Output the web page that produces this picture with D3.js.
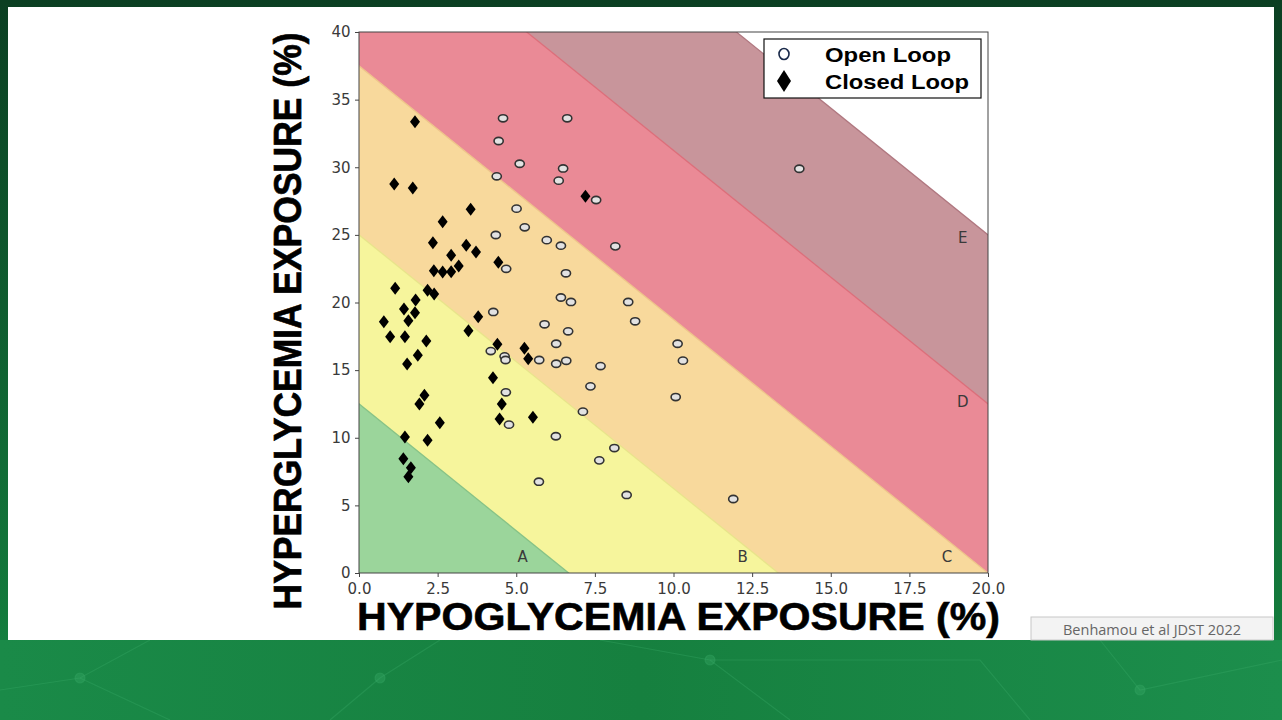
<!DOCTYPE html>
<html><head><meta charset="utf-8">
<script src="https://cdn.jsdelivr.net/npm/d3@7"></script>
<style>html,body{margin:0;padding:0;overflow:hidden;background:#0d4626;}</style>
</head><body>
<svg id="c" width="1282" height="720"></svg>
<script>
// ---- data ----
const openLoopX = [4.58,6.62,4.44,5.11,6.49,6.35,4.38,7.54,5.01,5.27,4.35,5.97,6.42,8.15,4.68,6.58,6.42,6.74,8.56,8.78,4.27,5.90,6.65,6.27,4.19,4.63,4.66,5.73,6.27,6.59,7.68,7.36,4.67,7.12,4.77,6.26,8.12,7.64,5.72,8.51,10.13,10.30,10.07,11.90,14.0];
const openLoopY = [33.62,33.62,31.94,30.26,29.91,29.01,29.33,27.58,26.94,25.56,24.99,24.61,24.20,24.15,22.49,22.16,20.37,20.04,20.04,18.61,19.30,18.39,17.87,16.95,16.41,16.02,15.75,15.75,15.47,15.69,15.30,13.80,13.36,11.93,10.97,10.11,9.24,8.33,6.75,5.77,16.95,15.70,13.01,5.47,29.89];
const closedLoopX = [1.78,1.12,1.71,3.55,2.66,2.35,3.41,3.72,2.93,3.17,2.38,2.66,2.93,4.43,1.15,2.18,2.39,1.80,1.43,1.78,0.79,1.57,3.79,0.99,1.46,2.14,3.48,1.87,1.53,4.40,5.26,5.38,4.26,2.08,1.92,4.54,2.57,4.47,5.53,1.46,2.18,1.41,1.65,1.57,7.20];
const closedLoopY = [33.37,28.76,28.47,26.89,25.97,24.42,24.23,23.73,23.49,22.70,22.35,22.26,22.28,22.97,21.05,20.90,20.63,20.18,19.52,19.25,18.58,18.65,18.95,17.47,17.47,17.15,17.91,16.10,15.45,16.92,16.61,15.84,14.44,13.14,12.50,12.50,11.11,11.39,11.51,10.06,9.81,8.45,7.79,7.12,27.85];
const zoneNames = ["A","B","C","D","E"];
const zoneBounds = [0,20,40,60,80,100];          // GRI = 3*hypo + 1.6*hyper
const zoneLabelX = [5.2,12.2,18.7,19.2,19.2];
const zoneLabelY = [0.8,0.8,0.8,12.3,24.4];
const xTicks = [0,2.5,5,7.5,10,12.5,15,17.5,20];
const yTicks = [0,5,10,15,20,25,30,35,40];
const seriesNames = ["Open Loop","Closed Loop"];

// ---- styles ----
const zoneFill = ["#9bd59b","#f6f59c","#f8d99c","#ea8a96","#c8959b"];
const zoneEdge = ["#86c286","#e8e48a","#eec48a","#dc6e7a","#b07880"];

const svg = d3.select("#c");
const defs = svg.append("defs");
const bg = defs.append("linearGradient").attr("id","bg").attr("x1",0).attr("y1",0).attr("x2",0).attr("y2",1);
bg.append("stop").attr("offset","0").attr("stop-color","#0b3f22");
bg.append("stop").attr("offset","0.85").attr("stop-color","#137a3c");
bg.append("stop").attr("offset","1").attr("stop-color","#1a8c48");
const bot = defs.append("linearGradient").attr("id","bot").attr("x1",0).attr("y1",0).attr("x2",1).attr("y2",0);
bot.append("stop").attr("offset","0").attr("stop-color","#1a8a48");
bot.append("stop").attr("offset","0.5").attr("stop-color","#16803f");
bot.append("stop").attr("offset","1").attr("stop-color","#1c8e4c");

svg.append("rect").attr("width",1282).attr("height",720).attr("fill","url(#bg)");
svg.append("rect").attr("x",0).attr("y",640).attr("width",1282).attr("height",80).attr("fill","url(#bot)");
// faint network decoration
const net = svg.append("g").attr("stroke","#3aa866").attr("stroke-opacity",0.35).attr("fill","none").attr("stroke-width",1.2);
[[ [0,690],[80,678],[150,640] ],[ [80,678],[170,720] ],[ [600,640],[710,660],[790,720] ],[ [710,660],[980,660],[1030,720] ],[ [1100,640],[1140,690],[1282,660] ],[ [380,678],[440,640] ],[ [380,678],[330,720] ]].forEach(p=>{
  net.append("path").attr("d",d3.line()(p));
});
[[80,678],[710,660],[1140,690],[380,678]].forEach(p=>net.append("circle").attr("cx",p[0]).attr("cy",p[1]).attr("r",5).attr("fill","#3aa866").attr("fill-opacity",0.35));

svg.append("rect").attr("x",8).attr("y",7).attr("width",1266).attr("height",633).attr("fill","#ffffff");

// ---- plot ----
const L=359, R=988, T=32, B=573;
const x = d3.scaleLinear().domain([0,20]).range([L,R]);
const y = d3.scaleLinear().domain([0,40]).range([B,T]);

defs.append("clipPath").attr("id","pc").append("rect").attr("x",L).attr("y",T).attr("width",R-L).attr("height",B-T);
const plot = svg.append("g").attr("clip-path","url(#pc)");

const lineX = (g,yy)=> (g-1.6*yy)/3;
for(let i=0;i<zoneNames.length;i++){
  const g1=zoneBounds[i], g2=zoneBounds[i+1];
  const poly=[[lineX(g1,-10),-10],[lineX(g1,60),60],[lineX(g2,60),60],[lineX(g2,-10),-10]];
  plot.append("path")
    .attr("d", d3.line().x(d=>x(d[0])).y(d=>y(d[1]))(poly)+"Z")
    .attr("fill",zoneFill[i]);
}
for(let i=1;i<zoneBounds.length;i++){
  const g=zoneBounds[i];
  plot.append("line")
    .attr("x1",x(lineX(g,-10))).attr("y1",y(-10))
    .attr("x2",x(lineX(g,60))).attr("y2",y(60))
    .attr("stroke",zoneEdge[i-1]).attr("stroke-width",1.3);
}
plot.selectAll("text.zl").data(zoneNames).enter().append("text")
  .attr("x",(d,i)=>x(zoneLabelX[i])).attr("y",(d,i)=>y(zoneLabelY[i]))
  .attr("text-anchor","middle").attr("font-family","DejaVu Sans").attr("font-size",15)
  .attr("fill","#3a3a3a").text(d=>d);

// markers
const closed = closedLoopX.map((v,i)=>[v,closedLoopY[i]]);
const open = openLoopX.map((v,i)=>[v,openLoopY[i]]);
plot.selectAll("path.cl").data(closed).enter().append("path")
  .attr("d",d=>{const cx=x(d[0]),cy=y(d[1]);return `M${cx},${cy-6.5}L${cx+5},${cy}L${cx},${cy+6.5}L${cx-5},${cy}Z`;})
  .attr("fill","#000");
plot.selectAll("ellipse.ol").data(open).enter().append("ellipse")
  .attr("cx",d=>x(d[0])).attr("cy",d=>y(d[1])).attr("rx",4.6).attr("ry",3.6)
  .attr("fill","#e2e2e2").attr("stroke","#333").attr("stroke-width",1.6);

// frame
svg.append("rect").attr("x",L).attr("y",T).attr("width",R-L).attr("height",B-T)
  .attr("fill","none").attr("stroke","#444").attr("stroke-width",1);

// axes
const ax = svg.append("g").attr("transform",`translate(0,${B})`)
  .call(d3.axisBottom(x).tickValues(xTicks).tickFormat(d3.format(".1f")).tickSize(4).tickSizeOuter(0));
const ay = svg.append("g").attr("transform",`translate(${L},0)`)
  .call(d3.axisLeft(y).tickValues(yTicks).tickFormat(d3.format("d")).tickSize(4).tickSizeOuter(0));
[ax,ay].forEach(a=>{
  a.select(".domain").remove();
  a.selectAll("line").attr("stroke","#444");
  a.selectAll("text").attr("font-family","DejaVu Sans").attr("font-size",15).attr("fill","#3a3a3a");
});
ax.selectAll("text").attr("dy","0.95em");
ay.selectAll("text").attr("dx","-0.1em");

// axis titles
svg.append("text").attr("x",678.5).attr("y",630).attr("text-anchor","middle")
  .attr("font-family","Liberation Sans, Arial, sans-serif").attr("font-weight","bold").attr("font-size",38)
  .attr("textLength",643).attr("lengthAdjust","spacingAndGlyphs").attr("fill","#000")
  .attr("stroke","#000").attr("stroke-width",0.6)
  .text("HYPOGLYCEMIA EXPOSURE (%)");
svg.append("text").attr("transform","translate(301,321) rotate(-90) scale(1,1.1)").attr("text-anchor","middle")
  .attr("font-family","Liberation Sans, Arial, sans-serif").attr("font-weight","bold").attr("font-size",35.5)
  .attr("fill","#000")
  .attr("stroke","#000").attr("stroke-width",0.6)
  .text("HYPERGLYCEMIA EXPOSURE (%)");

// legend
const lg = svg.append("g");
lg.append("rect").attr("x",764).attr("y",39).attr("width",217).attr("height",59)
  .attr("fill","#fff").attr("stroke","#111").attr("stroke-width",1.2);
lg.append("ellipse").attr("cx",784).attr("cy",54).attr("rx",5).attr("ry",5.5)
  .attr("fill","#fff").attr("stroke","#1a2a4a").attr("stroke-width",1.6);
lg.append("path").attr("d","M784,70L791,81L784,92L777,81Z").attr("fill","#000");
lg.selectAll("text").data(seriesNames).enter().append("text")
  .attr("x",825).attr("y",(d,i)=>62+i*27)
  .attr("font-family","Liberation Sans, Arial, sans-serif").attr("font-weight","bold").attr("font-size",21)
  .attr("textLength",(d,i)=>i===0?126:144).attr("lengthAdjust","spacingAndGlyphs")
  .attr("fill","#000").text(d=>d);

// citation
svg.append("rect").attr("x",1031).attr("y",617).attr("width",242).attr("height",23)
  .attr("fill","#f3f3f3").attr("stroke","#c8c8c8").attr("stroke-width",1);
svg.append("text").attr("x",1152).attr("y",635).attr("text-anchor","middle")
  .attr("font-family","Open Sans, sans-serif").attr("font-size",14.5).attr("fill","#666")
  .text("Benhamou et al JDST 2022");
</script>
</body></html>
